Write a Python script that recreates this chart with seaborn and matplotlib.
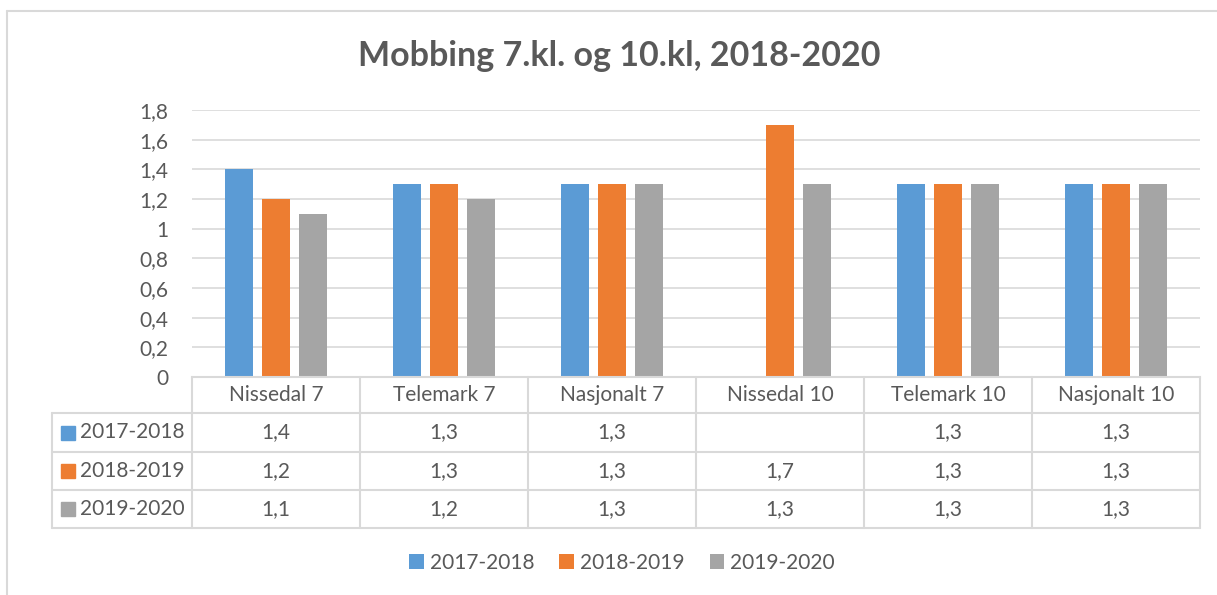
import numpy as np
import pandas as pd
import matplotlib as mpl
import matplotlib.pyplot as plt
import matplotlib.transforms as mtransforms
from matplotlib.lines import Line2D
from matplotlib.patches import Rectangle
import seaborn as sns

sns.set_style("white")
plt.rcParams['font.family'] = ['Lato', 'DejaVu Sans']

kategorier = ['Nissedal 7', 'Telemark 7', 'Nasjonalt 7', 'Nissedal 10', 'Telemark 10', 'Nasjonalt 10']
perioder = ['2017-2018', '2018-2019', '2019-2020']
v_2017_2018 = [1.4, 1.3, 1.3, np.nan, 1.3, 1.3]
v_2018_2019 = [1.2, 1.3, 1.3, 1.7, 1.3, 1.3]
v_2019_2020 = [1.1, 1.2, 1.3, 1.3, 1.3, 1.3]
farger = ['#5B9BD5', '#ED7D31', '#A5A5A5']

tekst = '#595959'
linje = '#D9D9D9'
fs = 15

serier = [v_2017_2018, v_2018_2019, v_2019_2020]
df = pd.DataFrame({
    'kategori': kategorier * 3,
    'periode': [p for p in perioder for _ in kategorier],
    'verdi': v_2017_2018 + v_2018_2019 + v_2019_2020,
})

W, H = 1217, 595
fig = plt.figure(figsize=(W / 100, H / 100), dpi=100)

def fx(px):
    return px / W

def fy(py):
    return 1 - py / H

# ytre ramme (kuttet på høyre side og nederst)
fig.add_artist(Line2D([fx(7), 1.0], [fy(11), fy(11)], color=linje, lw=1.5))
fig.add_artist(Line2D([fx(7), fx(7)], [fy(11), 0.0], color=linje, lw=1.5))

ax = fig.add_axes([fx(192), fy(377), fx(1200) - fx(192), fy(110) - fy(377)])
sns.barplot(data=df, x='kategori', y='verdi', hue='periode', hue_order=perioder,
            palette=farger, saturation=1, width=0.66, gap=0.22, linewidth=0,
            errorbar=None, ax=ax, legend=True)

ax.set_xlim(-0.5, len(kategorier) - 0.5)
ax.set_ylim(0, 1.8)
ax.set_yticks(np.arange(0, 1.81, 0.2))
ax.yaxis.set_major_formatter(mpl.ticker.FuncFormatter(
    lambda v, p: f"{round(v, 1):g}".replace('.', ',')))
ax.tick_params(axis='y', length=0, pad=17, labelsize=fs, labelcolor=tekst)
ax.set_xticks([])
ax.set_xlabel('')
ax.set_ylabel('')
ax.grid(axis='y', color=linje, lw=1.2)
ax.set_axisbelow(True)
for s in ['top', 'right', 'left']:
    ax.spines[s].set_visible(False)
ax.spines['bottom'].set_color(linje)
ax.spines['bottom'].set_linewidth(1.5)

handles, labels = ax.get_legend_handles_labels()
ax.get_legend().remove()

fig.suptitle('Mobbing 7.kl. og 10.kl, 2018-2020', x=fx(619), y=fy(56), va='center',
             fontsize=24.5, fontweight='bold', color=tekst)

# datatabell under aksen
tr = mtransforms.blended_transform_factory(ax.transData, fig.transFigure)
grenser = np.arange(len(kategorier) + 1) - 0.5
rad_y = [377, 413, 452, 490, 528]

for g in grenser:
    fig.add_artist(Line2D([g, g], [fy(377), fy(528)], color=linje, lw=1.5, transform=tr))
for ry in rad_y[1:]:
    fig.add_artist(Line2D([fx(52), fx(1200)], [fy(ry), fy(ry)], color=linje, lw=1.5))
fig.add_artist(Line2D([fx(52), fx(52)], [fy(413), fy(528)], color=linje, lw=1.5))

for i, k in enumerate(kategorier):
    fig.text(i, fy((rad_y[0] + rad_y[1]) / 2), k, transform=tr, ha='center', va='center',
             fontsize=fs, color=tekst)

for r, (p, verdier, c) in enumerate(zip(perioder, serier, farger)):
    midt = fy((rad_y[r + 1] + rad_y[r + 2]) / 2)
    fig.add_artist(Rectangle((fx(61), midt - 7 / H), 14 / W, 14 / H, color=c,
                             transform=fig.transFigure))
    fig.text(fx(80), midt, p, ha='left', va='center', fontsize=fs, color=tekst)
    for i, v in enumerate(verdier):
        if not np.isnan(v):
            fig.text(i, midt, f"{v:g}".replace('.', ','), transform=tr,
                     ha='center', va='center', fontsize=fs, color=tekst)

fig.legend(handles, labels, loc='center', bbox_to_anchor=(fx(622), fy(563)), ncol=3,
           frameon=False, fontsize=fs, labelcolor=tekst, handlelength=0.7,
           handleheight=0.7, handletextpad=0.3, columnspacing=1.2)

fig.savefig('out.png', dpi=100)
